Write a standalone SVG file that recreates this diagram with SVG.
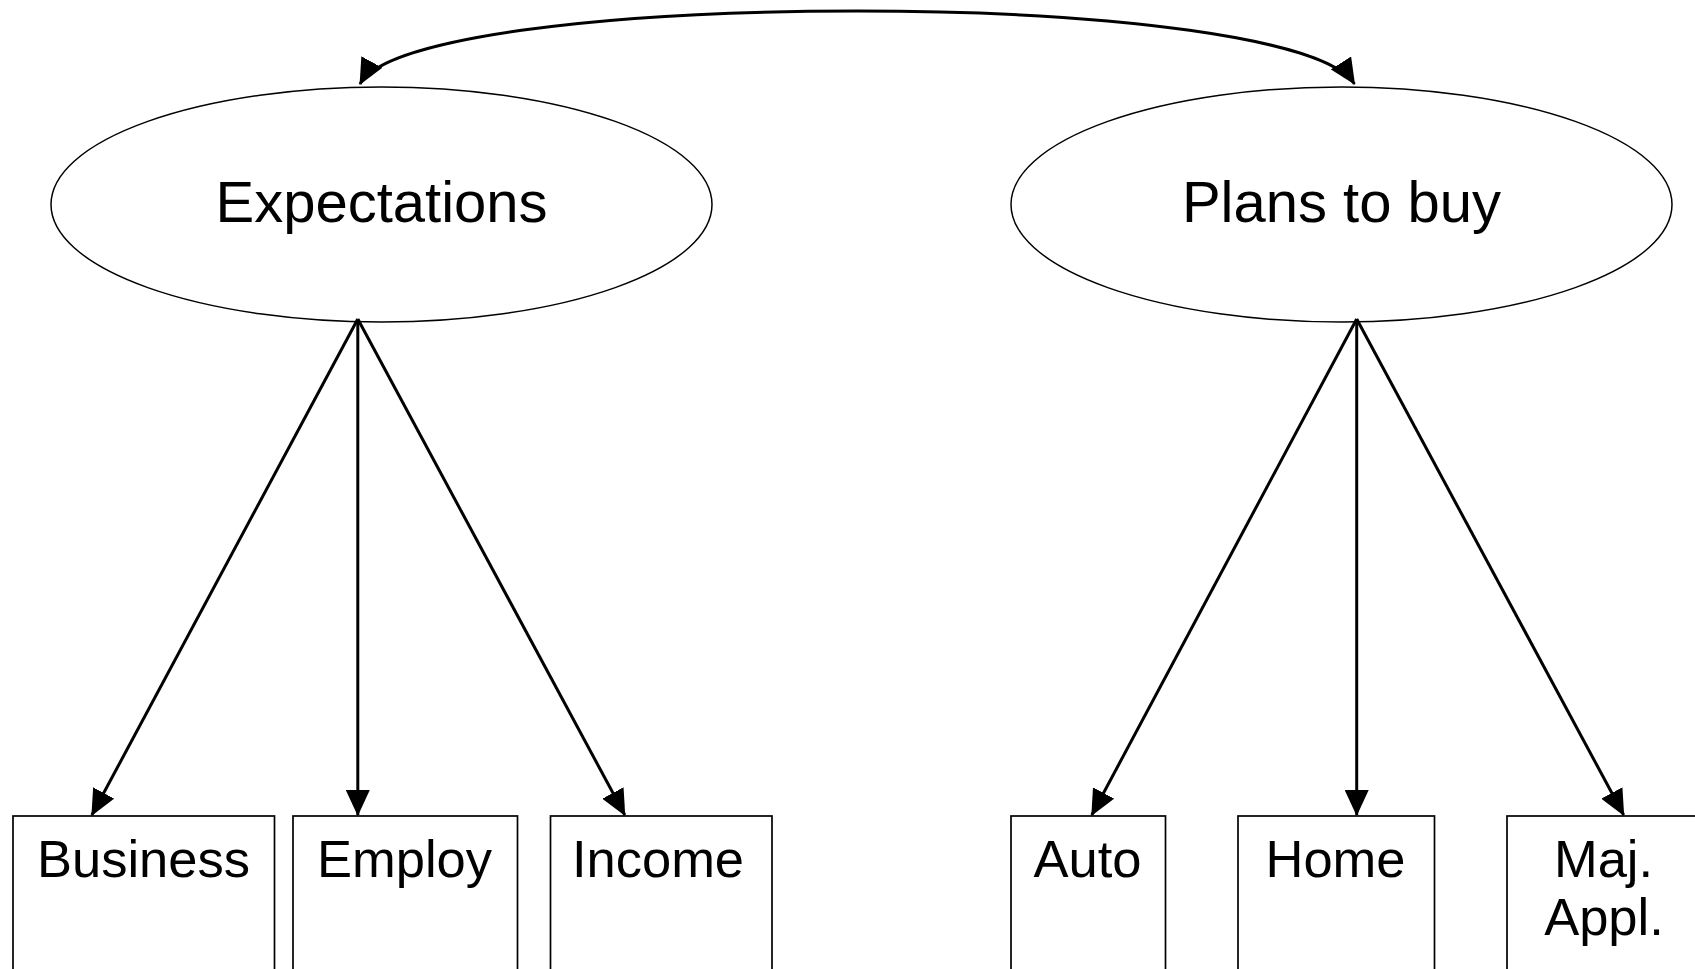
<svg xmlns="http://www.w3.org/2000/svg" width="1695" height="969" viewBox="0 0 1695 969">
<style>
.bg{fill:#fff}
.ell{fill:#fff;stroke:#000;stroke-width:1.5}
.box{fill:#fff;stroke:#000;stroke-width:1.7}
.lbl{font-family:"Liberation Sans",Arial,sans-serif;fill:#000;text-anchor:middle}
.big{font-size:58px}
.sm{font-size:52.5px}
.con{fill:none;stroke:#000;stroke-width:3;marker-end:url(#ah)}
</style>
<defs>
<marker id="ah" viewBox="0 0 26 24" refX="25" refY="12" markerWidth="26" markerHeight="24" markerUnits="userSpaceOnUse" orient="auto-start-reverse">
<path d="M0,0 L26,12 L0,24 z" fill="#000"/>
</marker>
</defs>
<rect class="bg" x="0" y="0" width="1695" height="969"/>
<g id="expectations">
<ellipse class="ell" cx="381.5" cy="204.5" rx="330.5" ry="117.5"/>
<text class="lbl big" x="381.5" y="221.5">Expectations</text>
</g>
<g id="plans">
<ellipse class="ell" cx="1341.5" cy="204.5" rx="330.5" ry="117.5"/>
<text class="lbl big" x="1341.5" y="221.5">Plans to buy</text>
</g>
<g id="business">
<rect class="box" x="13" y="816" width="261.5" height="170"/>
<text class="lbl sm" x="143.5" y="877">Business</text>
</g>
<g id="employ">
<rect class="box" x="293" y="816" width="224.5" height="170"/>
<text class="lbl sm" x="404.5" y="877">Employ</text>
</g>
<g id="income">
<rect class="box" x="550.5" y="816" width="221.5" height="170"/>
<text class="lbl sm" x="658" y="877">Income</text>
</g>
<g id="auto">
<rect class="box" x="1011" y="816" width="154.5" height="170"/>
<text class="lbl sm" x="1087.5" y="877">Auto</text>
</g>
<g id="home">
<rect class="box" x="1238" y="816" width="196.5" height="170"/>
<text class="lbl sm" x="1335.5" y="877">Home</text>
</g>
<g id="majappl">
<rect class="box" x="1507" y="816" width="194" height="170"/>
<text class="lbl sm" x="1603.5" y="877">Maj.</text>
<text class="lbl sm" x="1604" y="935">Appl.</text>
</g>
<g id="connectors">
<path class="con" style="marker-start:url(#ah)" d="M360,84 C385,38 600,11 857,11 C1110,11 1325,38 1354.5,84"/>
<line class="con" x1="357.8" y1="319" x2="91.9" y2="815"/>
<line class="con" x1="357.8" y1="319" x2="357.8" y2="815"/>
<line class="con" x1="357.8" y1="319" x2="624.8" y2="815"/>
<line class="con" x1="1356.7" y1="319" x2="1091.8" y2="815"/>
<line class="con" x1="1356.7" y1="319" x2="1356.7" y2="815"/>
<line class="con" x1="1356.7" y1="319" x2="1623.7" y2="815"/>
</g>
</svg>
